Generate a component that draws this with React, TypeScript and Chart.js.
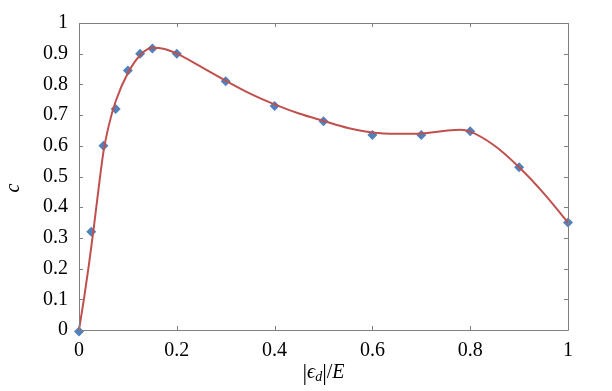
import React, { useEffect, useRef } from "react";
import { Chart, registerables } from "chart.js";

Chart.register(...registerables);

// measured points
const pointX = [0, 0.025, 0.05, 0.075, 0.1, 0.125, 0.15, 0.2, 0.3, 0.4, 0.5, 0.6, 0.7, 0.8, 0.9, 1.0];
const pointY = [-0.005, 0.32, 0.6, 0.72, 0.845, 0.9, 0.917, 0.9, 0.81, 0.73, 0.68, 0.635, 0.635, 0.647, 0.53, 0.35];

// fitted curve
const curveX = [0, 0.01, 0.02, 0.03, 0.04, 0.05, 0.06, 0.075, 0.1, 0.125, 0.15, 0.175, 0.2, 0.25, 0.3, 0.35, 0.4, 0.45, 0.5, 0.55, 0.6, 0.65, 0.7, 0.75, 0.78, 0.8, 0.85, 0.9, 0.95, 1.0];
const curveY = [0, 0.1, 0.21, 0.33, 0.46, 0.58, 0.66, 0.745, 0.837, 0.895, 0.919, 0.915, 0.9, 0.857, 0.812, 0.77, 0.735, 0.705, 0.681, 0.658, 0.643, 0.639, 0.64, 0.649, 0.652, 0.646, 0.6, 0.53, 0.446, 0.35];

const xTicks = [0, 0.2, 0.4, 0.6, 0.8, 1];
const yTicks = [0, 0.1, 0.2, 0.3, 0.4, 0.5, 0.6, 0.7, 0.8, 0.9, 1];

const FONT = "'Liberation Serif', 'DejaVu Serif', serif";
const AXIS_COLOR = "#7f7f7f";

const boxPlugin = {
  id: "boxTicks",
  afterDraw(chart: any) {
    const { ctx, chartArea } = chart;
    const { left, right, top, bottom } = chartArea;
    const xs = chart.scales.x;
    const ys = chart.scales.y;
    ctx.save();
    ctx.strokeStyle = AXIS_COLOR;
    ctx.lineWidth = 1;
    ctx.beginPath();
    ctx.rect(Math.round(left) + 0.5, Math.round(top) + 0.5, Math.round(right - left), Math.round(bottom - top));
    ctx.stroke();
    const len = 4;
    ctx.beginPath();
    for (const v of xTicks) {
      const p = Math.round(xs.getPixelForValue(v)) + 0.5;
      ctx.moveTo(p, bottom);
      ctx.lineTo(p, bottom - len);
      ctx.moveTo(p, top);
      ctx.lineTo(p, top + len);
    }
    for (const v of yTicks) {
      const p = Math.round(ys.getPixelForValue(v)) + 0.5;
      ctx.moveTo(left, p);
      ctx.lineTo(left + len, p);
      ctx.moveTo(right, p);
      ctx.lineTo(right - len, p);
    }
    ctx.stroke();

    // axis titles
    ctx.fillStyle = "#000";
    ctx.textBaseline = "alphabetic";
    const cx = (left + right) / 2;
    const baseY = 378;
    const parts: [string, string, number][] = [
      ["|", `23px ${FONT}`, 2],
      ["ϵ", `italic 20px ${FONT}`, 0],
      ["d", `italic 14px ${FONT}`, 3],
      ["|", `23px ${FONT}`, 2],
      ["/", `20px ${FONT}`, 0],
      ["E", `italic 20px ${FONT}`, 0],
    ];
    let total = 0;
    for (const [t, f] of parts) {
      ctx.font = f;
      total += ctx.measureText(t).width;
    }
    let x = cx - total / 2;
    ctx.textAlign = "left";
    for (const [t, f, dy] of parts) {
      ctx.font = f;
      ctx.fillText(t, x, baseY + dy);
      x += ctx.measureText(t).width;
    }
    ctx.save();
    ctx.translate(19, 188);
    ctx.rotate(-Math.PI / 2);
    ctx.textAlign = "center";
    ctx.font = `italic 20px ${FONT}`;
    ctx.fillText("c", 0, 0);
    ctx.restore();
    ctx.restore();
  },
};

export default function App() {
  const ref = useRef<HTMLCanvasElement>(null);
  useEffect(() => {
    document.body.style.margin = "0";
    const chart = new Chart(ref.current!, {
      type: "scatter",
      data: {
        datasets: [
          {
            type: "line",
            data: curveX.map((x, i) => ({ x, y: curveY[i] })),
            borderColor: "#c0504d",
            borderWidth: 2,
            pointRadius: 0,
            tension: 0.4,
            cubicInterpolationMode: "monotone",
            fill: false,
            clip: false,
          } as any,
          {
            data: pointX.map((x, i) => ({ x, y: pointY[i] })),
            pointStyle: "rectRot",
            pointRadius: 5,
            backgroundColor: "#4f81bd",
            borderColor: "#4f81bd",
            borderWidth: 0,
            clip: false,
          } as any,
        ],
      },
      options: {
        animation: false,
        responsive: false,
        layout: { padding: { top: 20, right: 44, left: 0, bottom: 0 } },
        plugins: { legend: { display: false }, tooltip: { enabled: false } },
        scales: {
          x: {
            type: "linear",
            min: 0,
            max: 1,
            afterBuildTicks: (s: any) => { s.ticks = xTicks.map((v) => ({ value: v })); },
            afterFit: (s: any) => { s.height = 61; },
            grid: { display: false, drawTicks: false },
            border: { display: false },
            ticks: {
              padding: 9,
              color: "#000",
              font: { family: FONT, size: 20 },
              callback: (v: any) => String(Number(Number(v).toFixed(1))),
            },
          },
          y: {
            type: "linear",
            min: 0,
            max: 1,
            afterBuildTicks: (s: any) => { s.ticks = yTicks.map((v) => ({ value: v })); },
            afterFit: (s: any) => { s.width = 79; },
            grid: { display: false, drawTicks: false },
            border: { display: false },
            ticks: {
              padding: 11,
              color: "#000",
              font: { family: FONT, size: 20 },
              callback: (v: any) => String(Number(Number(v).toFixed(1))),
            },
          },
        },
      },
      plugins: [boxPlugin],
    });
    return () => chart.destroy();
  }, []);
  return <canvas ref={ref} width={612} height={391} style={{ display: "block" }} />;
}
